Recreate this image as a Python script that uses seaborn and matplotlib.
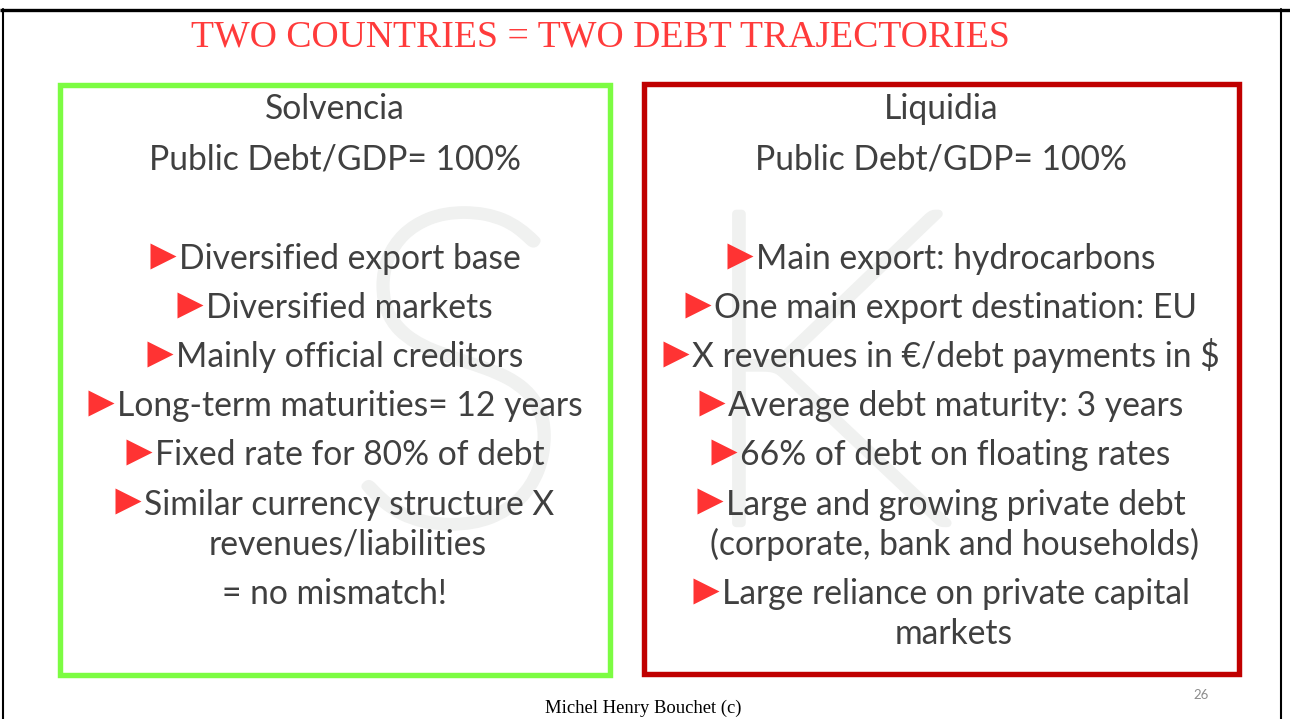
import matplotlib
matplotlib.use("Agg")
import matplotlib.pyplot as plt
import matplotlib.patheffects as pe
import seaborn as sns
import pandas as pd
from matplotlib import font_manager as fm
from matplotlib.patches import Rectangle

# ---------------- data ----------------
title = "TWO COUNTRIES = TWO DEBT TRAJECTORIES"
countries = ["Solvencia", "Liquidia"]
debt_to_gdp = [100, 100]

solvencia_lines = [
    "Diversified export base",
    "Diversified markets",
    "Mainly official creditors",
    "Long-term maturities= 12 years",
    "Fixed rate for 80% of debt",
    "Similar currency structure X",
    "revenues/liabilities",
    "= no mismatch!",
]
solvencia_kinds = ["bullet", "bullet", "bullet", "bullet", "bullet", "bullet", "cont", "plain"]

liquidia_lines = [
    "Main export: hydrocarbons",
    "One main export destination: EU",
    "X revenues in €/debt payments in $",
    "Average debt maturity: 3 years",
    "66% of debt on floating rates",
    "Large and growing private debt",
    "(corporate, bank and households)",
    "Large reliance on private capital",
    "markets",
]
liquidia_kinds = ["bullet", "bullet", "bullet", "bullet", "bullet", "bullet", "cont", "bullet", "cont"]

footer = "Michel Henry Bouchet (c)"
page_number = "26"
watermark_letters = ["S", "K"]

# ---------------- style ----------------
sns.set_theme(style="white")
plt.rcParams["font.family"] = ["Lato", "DejaVu Sans"]

TEXT = "#404040"
BULLET = "#FF3333"
TITLE_C = "#FF3B3B"
GREEN = "#7CFC42"
DARKRED = "#C00000"
WM = "#F0F1F0"

W, H = 1290, 719
fig = plt.figure(figsize=(W / 100, H / 100), dpi=100)
ax = fig.add_axes([0, 0, 1, 1])
renderer = fig.canvas.get_renderer()


def width_of(t):
    return t.get_window_extent(renderer=renderer).width


def fit_size(texts, target, **kw):
    tot = 0
    for s in texts:
        t = ax.text(0, 0, s, fontsize=20, **kw)
        tot += width_of(t)
        t.remove()
    return 20 * target / tot


def _w(f):
    return f.weight if isinstance(f.weight, int) else 400


def watermark_font():
    # thinnest weight of a humanist sans, thickened a little with a stroke
    for fam in ["Lato", "Roboto", "Open Sans", "Inter", "Noto Sans"]:
        c = sorted((f for f in fm.fontManager.ttflist if f.name == fam and f.style == "normal"
                    and _w(f) < 400), key=_w)
        if c:
            return fm.FontProperties(fname=c[0].fname), ("thin" if _w(c[0]) <= 250 else "light")
    return fm.FontProperties(family="DejaVu Sans"), "regular"

wm_prop, wm_kind = watermark_font()
wm_fs = 318
wm_stroke = 6 if wm_kind == "thin" else 0
wm_prop.set_size(wm_fs)

# ---------------- slide frame ----------------
ax.plot([0, W], [9.5, 9.5], color="black", lw=2.4, solid_capstyle="butt")
ax.plot([3, 3], [9, H], color="black", lw=1.5)
ax.plot([1281, 1281], [9, H], color="black", lw=1.5)

# watermark
peff = [pe.withStroke(linewidth=wm_stroke, foreground=WM)] if wm_stroke else None
for letter, xc in zip(watermark_letters, [458, 820]):
    ax.text(xc, 523, letter, fontproperties=wm_prop, color=WM, ha="center", va="baseline",
            zorder=0, path_effects=peff)

# boxes
ax.add_patch(Rectangle((59.5, 84.5), 550.5, 590.5, fill=False, ec=GREEN, lw=3.9, joinstyle="miter"))
ax.add_patch(Rectangle((643.5, 83.5), 595, 590.5, fill=False, ec=DARKRED, lw=3.9, joinstyle="miter"))

# title
ts = fit_size([title], 820, family="Liberation Serif")
ax.text(600, 37, title, fontsize=ts, family="Liberation Serif", color=TITLE_C, ha="center", va="center")

# body font size (calibrated on several reference line widths)
bs = fit_size(["Diversified export base", "Long-term maturities= 12 years",
               "X revenues in €/debt payments in $", "Public Debt/GDP= 100%"], 1715)
px = bs * 100 / 72
TRI = 26  # triangle size in px
GAP = 3

bul_x, bul_y = [], []


def put(cx, yc, text, kind):
    base = yc + 0.36 * px
    if kind == "bullet":
        tt = ax.text(0, base, text, fontsize=bs, color=TEXT, ha="left", va="baseline")
        w2 = width_of(tt)
        left = cx - (TRI + GAP + w2) / 2
        tt.set_x(left + TRI + GAP)
        bul_x.append(left + TRI / 2)
        bul_y.append(yc - 1)
    else:
        off = 13 if kind == "cont" else 0
        ax.text(cx + off, base, text, fontsize=bs, color=TEXT, ha="center", va="baseline")


panels = [(335, countries[0], debt_to_gdp[0], solvencia_lines, solvencia_kinds),
          (941, countries[1], debt_to_gdp[1], liquidia_lines, liquidia_kinds)]
for cx, name, ratio, lines, kinds in panels:
    put(cx, 107, name, "plain")
    put(cx, 157, f"Public Debt/GDP= {ratio}%", "plain")
    y = 256.5
    first = True
    for text, kind in zip(lines, kinds):
        if not first:
            y += 40 if kind == "cont" else 49.2
        put(cx, y, text, kind)
        first = False

# red triangle bullets
tri_marker = [(-1, -1), (1, 0), (-1, 1), (-1, -1)]
bullets = pd.DataFrame({"x": bul_x, "y": bul_y})
sns.scatterplot(data=bullets, x="x", y="y", marker=tri_marker, s=(TRI * 0.72) ** 2,
                color=BULLET, linewidth=0, ax=ax, zorder=3, legend=False)

# footer
fs = fit_size([footer], 196, family="Liberation Serif")
ax.text(643, 708, footer, fontsize=fs, family="Liberation Serif", color="black", ha="center", va="center")
ax.text(1201, 695, page_number, fontsize=9.5, color="#8C8C8C", ha="center", va="center")

ax.set_xlim(0, W)
ax.set_ylim(H, 0)
ax.axis("off")

fig.savefig("out.png", dpi=100)
